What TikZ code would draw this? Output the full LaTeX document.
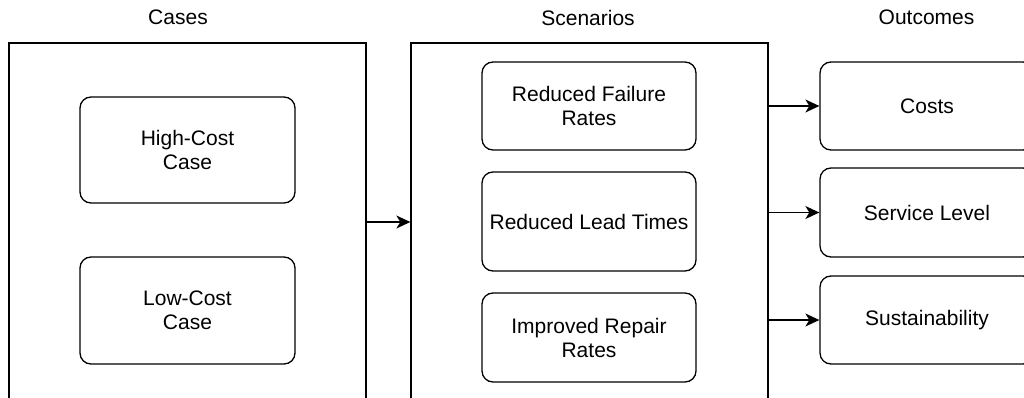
\documentclass[tikz,border=0pt]{standalone}
\usepackage{fontspec}
\setmainfont{Liberation Sans}
\usetikzlibrary{arrows.meta}
\begin{document}
\begin{tikzpicture}[x=1pt,y=-1pt,
  every node/.style={font=\fontsize{21pt}{24pt}\selectfont, align=center, inner sep=0pt},
  frame/.style={draw, line width=1.3pt, minimum width=357pt, minimum height=358pt},
  item/.style={draw, line width=1.3pt, rounded corners=11pt, minimum width=214pt},
  title/.style={},
  arr/.style={line width=1.3pt, -{Stealth[length=14pt, width=13pt, inset=4pt]}}]
\useasboundingbox (0,0) rectangle (1024,398);
\clip (0,0) rectangle (1024,398);

% column headings
\node[title] (tcases) at (178,17.5) {Cases};
\node[title] (tscen) at (588,17.5) {Scenarios};
\node[title] (tout) at (926.5,17.5) {Outcomes};

% enclosing frames
\node[frame] (cases) at (187.5,222) {};
\node[frame] (scen) at (589.5,222) {};

% cases
\node[item, minimum width=215pt, minimum height=106pt] (high) at (187.5,150) {High-Cost\\Case};
\node[item, minimum width=215pt, minimum height=107pt] (low) at (187.5,310.5) {Low-Cost\\Case};

% scenarios
\node[item, minimum height=88pt] (fail) at (589,106) {Reduced Failure\\Rates};
\node[item, minimum height=99pt] (lead) at (589,221.5) {Reduced Lead Times};
\node[item, minimum height=89pt] (repair) at (589,337.5) {Improved Repair\\Rates};

% outcomes
\node[item, minimum height=88pt] (costs) at (927,106) {Costs};
\node[item, minimum height=89pt] (service) at (927,212.5) {Service Level};
\node[item, minimum height=88pt] (sust) at (927,320) {Sustainability};

% connectors
\draw[arr] (cases.east) -- (scen.west);
\draw[arr] (scen.east |- costs.west) -- (costs.west);
\draw[arr] (scen.east |- service.west) -- (service.west);
\draw[arr] (scen.east |- sust.west) -- (sust.west);
\end{tikzpicture}
\end{document}
